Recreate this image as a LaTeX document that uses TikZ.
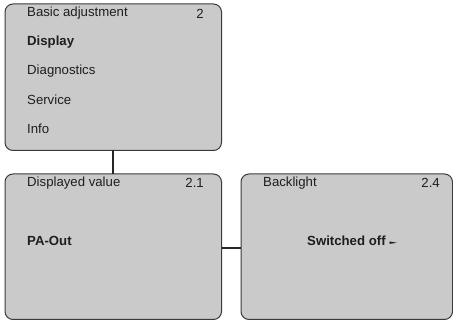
\documentclass[tikz,border=0pt]{standalone}
\usepackage{fontspec}
\setmainfont{Liberation Sans}
\newfontfamily\symfont{DejaVu Sans}
\definecolor{boxfill}{HTML}{CACACA}
\definecolor{boxline}{HTML}{3A3A3A}
\definecolor{txt}{HTML}{1E1E1E}
\begin{document}
\begin{tikzpicture}[x=1pt,y=-1pt,
  menubox/.style={draw=boxline,fill=boxfill,line width=1pt,rounded corners=8pt},
  lbl/.style={anchor=west,inner sep=0pt,text=txt,font=\fontsize{13.2}{15}\selectfont},
  num/.style={anchor=east,inner sep=0pt,text=txt,font=\fontsize{13.2}{15}\selectfont},
  conn/.style={draw=black!85,line width=2.2pt}]
\useasboundingbox (0,0) rectangle (453,320);
% boxes
\path[menubox] (5,4) rectangle (221.5,150.5);
\path[menubox] (5,174) rectangle (221.5,319.5);
\path[menubox] (241,174) rectangle (452.5,319.5);
\coordinate (topb) at (113,150.5);
\coordinate (botl) at (113,174);
\coordinate (rl) at (221.5,248);
\coordinate (rr) at (241,248);
\draw[conn] (topb) -- (botl);
\draw[conn] (rl) -- (rr);
% top menu texts
\node[lbl] (t1) at (27,13.5) {Basic adjustment};
\node[num] (t1n) at (204,13.5) {2};
\node[lbl] (t2) at (27,42.5) {\bfseries Display};
\node[lbl] (t3) at (27,71.5) {Diagnostics};
\node[lbl] (t4) at (27,100) {Service};
\node[lbl] (t5) at (27,129) {Info};
% bottom left
\node[lbl] (d1) at (27,183) {Displayed value};
\node[num] (d1n) at (204,183) {2.1};
\node[lbl] (d2) at (27,241) {\bfseries PA-Out};
% bottom right
\node[lbl] (b1) at (263,183) {Backlight};
\node[num] (b1n) at (440,183) {2.4};
\node[lbl] (b2) at (307,241) {\bfseries Switched off\hspace{4pt}{\symfont\fontsize{10}{10}\selectfont\raisebox{1.5pt}{\scalebox{1}[0.5]{►}}}};
\end{tikzpicture}
\end{document}
